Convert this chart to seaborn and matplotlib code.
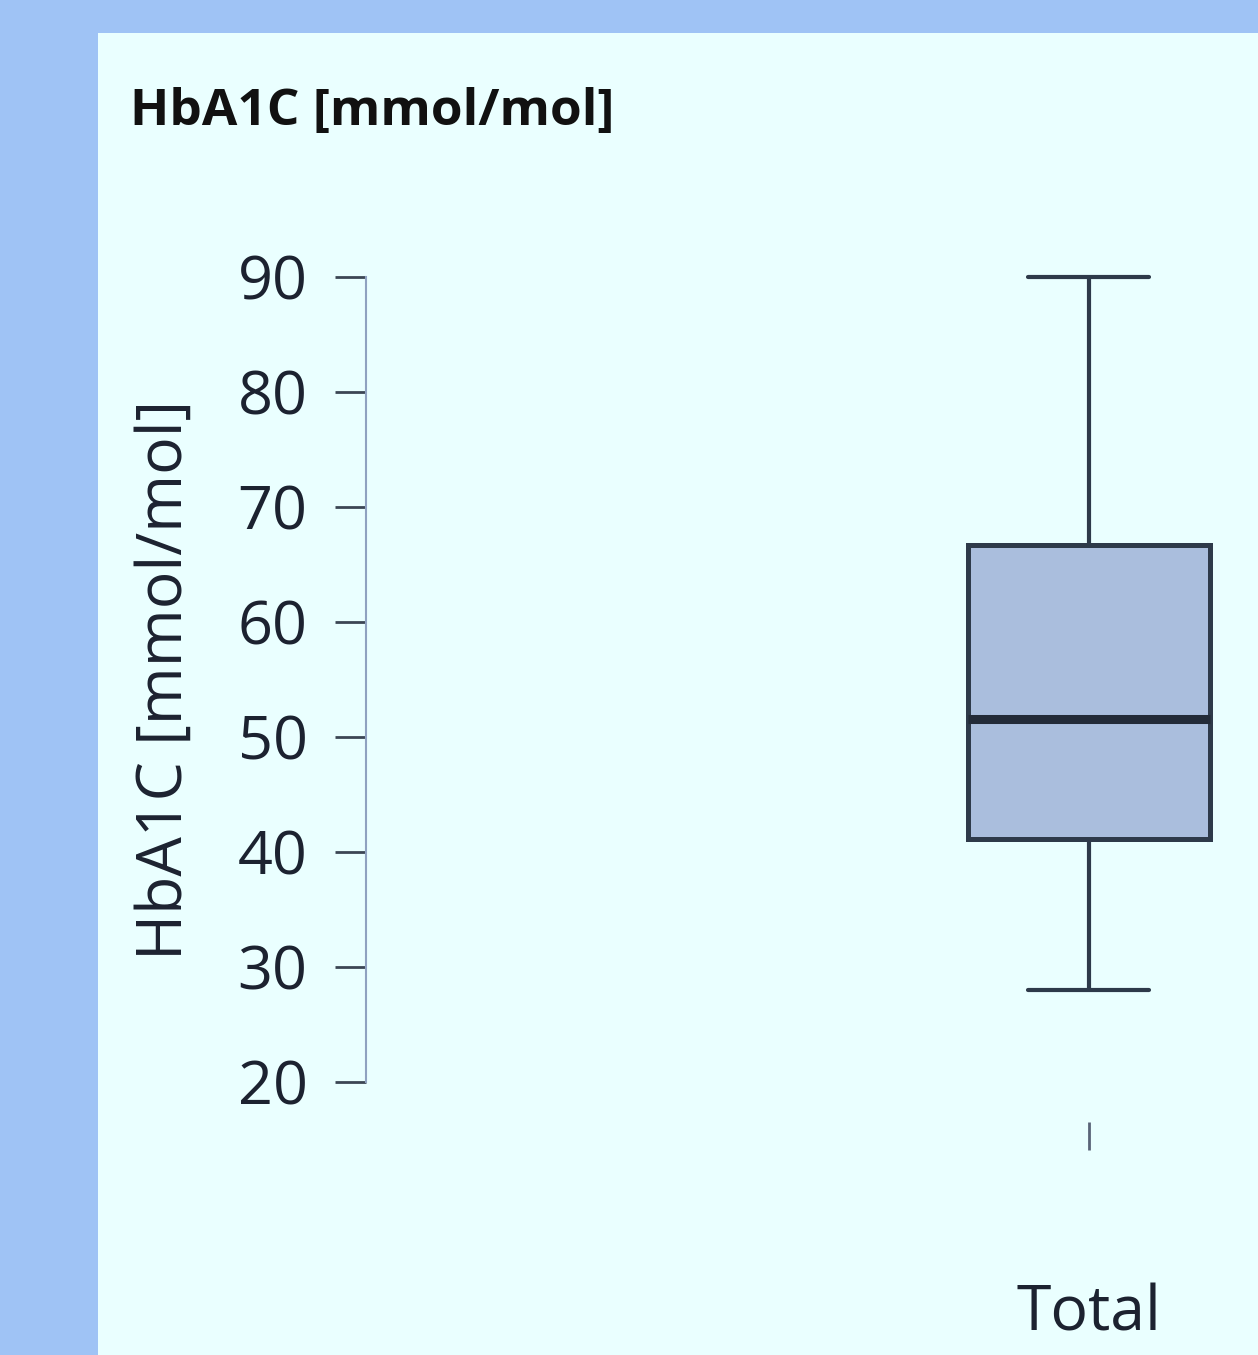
import matplotlib
matplotlib.use("Agg")
import matplotlib.pyplot as plt
import seaborn as sns
import pandas as pd
from matplotlib.patches import Rectangle

# ---- data (five values reproducing the box statistics) ----
group = ["Total", "Total", "Total", "Total", "Total"]
hba1c = [28, 41.1, 51.6, 66.7, 90]
yticks = [20, 30, 40, 50, 60, 70, 80, 90]
title = "HbA1C [mmol/mol]"
ylabel = "HbA1C [mmol/mol]"

df = pd.DataFrame({"group": group, "HbA1C": hba1c})

sns.set_style("white")
plt.rcParams["font.family"] = ["Open Sans", "DejaVu Sans"]

W, H = 1258, 1355
fig = plt.figure(figsize=(W / 100, H / 100), dpi=100)
fig.patch.set_facecolor("#9fc3f5")
fig.patches.append(Rectangle((98 / W, 0), 1 - 98 / W, 1 - 33 / H,
                             transform=fig.transFigure, facecolor="#eaffff",
                             edgecolor="none", zorder=-10))

ax = fig.add_axes([366 / W, (H - 1122) / H, 892 / W, (1122 - 260) / H])
ax.set_facecolor("none")
ax.set_zorder(5)

edge = "#2e3a4a"
sns.boxplot(data=df, x="group", y="HbA1C", ax=ax, width=0.8,
            color="#aabedd", saturation=1, linewidth=3.6,
            boxprops=dict(facecolor="#aabedd", edgecolor=edge, linewidth=3.6),
            whiskerprops=dict(color=edge, linewidth=3),
            capprops=dict(color=edge, linewidth=3),
            medianprops=dict(color="#232b38", linewidth=6.5),
            showfliers=False)

ax.set_xlim(-2.390, 0.559)
ax.set_ylim(16.52, 91.478)
ax.set_yticks(yticks)
ax.set_yticklabels([str(v) for v in yticks])

for s in ["top", "right", "bottom"]:
    ax.spines[s].set_visible(False)
ax.spines["left"].set_bounds(20, 90)
ax.spines["left"].set_color("#8fa2c0")
ax.spines["left"].set_linewidth(1.5)

ax.tick_params(axis="y", left=True, direction="out", length=22, width=2,
               color="#3c4654", pad=20, labelsize=44, labelcolor="#1c2230")
ax.tick_params(axis="x", bottom=True, direction="out", length=20, width=2,
               color="#5a6478", pad=96, labelsize=45, labelcolor="#1c2230")

ax.set_xlabel("")
ax.set_ylabel(ylabel, fontsize=45, color="#1c2230")
ax.yaxis.set_label_coords(-0.190, 0.5128)

fig.text(130 / W, 1 - 125 / H, title, fontsize=37, fontweight="bold",
         color="#111111", ha="left", va="baseline", zorder=10)

fig.savefig("out.png", dpi=100, facecolor=fig.get_facecolor())
